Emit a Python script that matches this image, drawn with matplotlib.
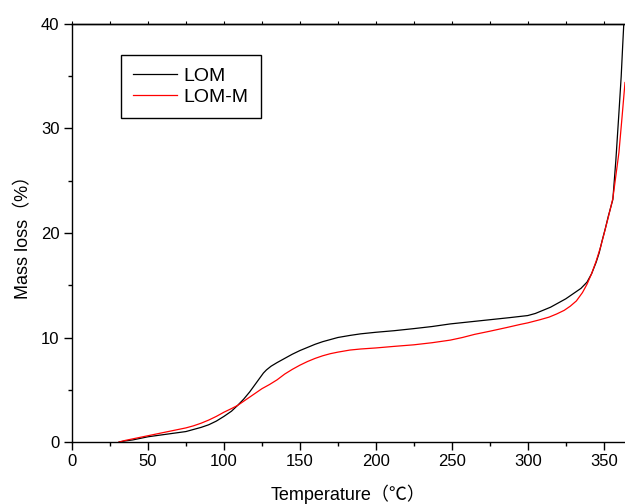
import matplotlib
matplotlib.use("Agg")
import matplotlib.pyplot as plt
from matplotlib.ticker import MultipleLocator, NullFormatter

plt.rcParams['font.family'] = ['Liberation Sans', 'Noto Sans CJK SC', 'DejaVu Sans']

# TG mass loss curves
temp_lom = [31, 35, 40, 45, 50, 55, 60, 65, 70, 75, 80, 85, 90, 95, 100, 105, 109,
            113, 117, 121, 124, 126, 128, 131, 135, 140, 145, 150, 155, 160, 165,
            170, 175, 183, 190, 200, 212, 225, 237, 249, 262, 275, 288, 300, 305,
            310, 315, 320, 325, 330, 335, 339, 342, 345, 347, 349, 351, 353, 356,
            358, 360, 361.5, 362.5, 363.2]
loss_lom = [0, 0.1, 0.2, 0.35, 0.5, 0.6, 0.7, 0.8, 0.9, 1.0, 1.2, 1.4, 1.65, 2.0,
            2.45, 2.95, 3.5, 4.1, 4.8, 5.6, 6.2, 6.6, 6.9, 7.25, 7.6, 8.0, 8.4,
            8.75, 9.05, 9.35, 9.6, 9.8, 10.0, 10.2, 10.35, 10.5, 10.65, 10.85,
            11.05, 11.3, 11.5, 11.7, 11.9, 12.1, 12.3, 12.6, 12.9, 13.3, 13.7,
            14.2, 14.7, 15.3, 16.1, 17.2, 18.1, 19.3, 20.4, 21.6, 23.2, 27.0,
            31.5, 35.0, 38.0, 40.0]

temp_lomm = [31, 35, 40, 45, 50, 55, 60, 65, 70, 75, 80, 85, 90, 95, 100, 105, 109,
             113, 117, 121, 125, 130, 135, 140, 145, 150, 155, 160, 165, 170, 175,
             183, 190, 200, 212, 225, 237, 249, 257, 265, 275, 286, 295, 300, 308,
             314, 319, 324, 328, 332, 336, 339, 342, 345, 348, 350, 353, 356, 358,
             360, 362, 364]
loss_lomm = [0, 0.15, 0.3, 0.45, 0.6, 0.75, 0.9, 1.05, 1.2, 1.35, 1.55, 1.8, 2.1,
             2.45, 2.85, 3.2, 3.5, 3.9, 4.3, 4.7, 5.1, 5.5, 5.95, 6.5, 6.95, 7.35,
             7.7, 8.0, 8.25, 8.45, 8.6, 8.8, 8.9, 9.0, 9.15, 9.3, 9.5, 9.75, 10.0,
             10.3, 10.6, 10.95, 11.25, 11.4, 11.7, 11.95, 12.25, 12.6, 13.0, 13.5,
             14.3, 15.1, 16.1, 17.3, 18.7, 19.8, 21.5, 23.3, 25.5, 27.7, 31.0, 34.4]

fig = plt.figure(figsize=(6.25, 5.04), dpi=100)
ax = fig.add_axes([72 / 625, 1 - 442 / 504, (625 - 72) / 625, (442 - 24) / 504])

ax.plot(temp_lom, loss_lom, color='black', lw=0.9, label='LOM')
ax.plot(temp_lomm, loss_lomm, color='red', lw=0.9, label='LOM-M')

ax.set_xlim(0, 364)
ax.set_ylim(0, 40)
ax.xaxis.set_major_locator(MultipleLocator(50))
ax.xaxis.set_minor_locator(MultipleLocator(25))
ax.yaxis.set_major_locator(MultipleLocator(10))
ax.yaxis.set_minor_locator(MultipleLocator(5))
ax.tick_params(which='major', direction='out', length=6, width=1, labelsize=12, pad=3)
ax.tick_params(which='minor', direction='out', length=3, width=1)
ax.spines['right'].set_visible(False)
for s in ['left', 'bottom', 'top']:
    ax.spines[s].set_linewidth(1.0)

top = ax.secondary_xaxis('top')
top.xaxis.set_major_locator(MultipleLocator(25))
top.xaxis.set_major_formatter(NullFormatter())
top.tick_params(direction='out', length=2, width=0.8)
top.spines['top'].set_linewidth(1.0)

ax.set_xlabel('Temperature（℃）', fontsize=13, labelpad=11)
ax.set_ylabel('Mass loss（%）', fontsize=13, labelpad=6)

ax.legend(loc='upper left', bbox_to_anchor=(0.088, 0.926), fontsize=14,
          frameon=True, fancybox=False, edgecolor='black', framealpha=1,
          handlelength=2.25, handletextpad=0.3, borderpad=0.65, labelspacing=0.15,
          borderaxespad=0)

fig.savefig('out.png', dpi=100)
